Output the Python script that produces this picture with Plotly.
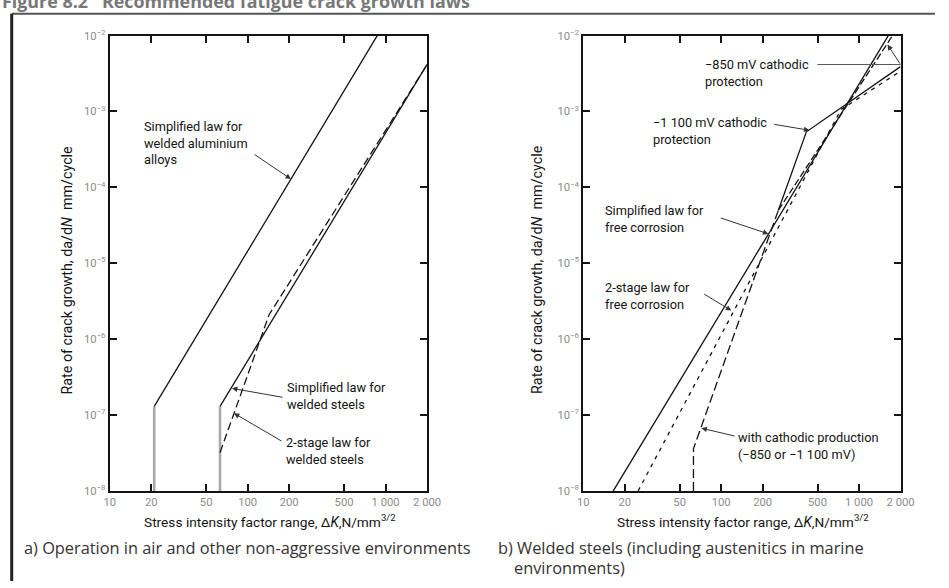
import plotly.graph_objects as go

# ---------------- data ----------------
x_tickvals = [10, 20, 50, 100, 200, 500, 1000, 2000]
x_ticktext = ["10", "20", "50", "100", "200", "500", "1 000", "2 000"]
y_tickvals = [1e-8, 1e-7, 1e-6, 1e-5, 1e-4, 1e-3, 1e-2]
y_ticktext = ["10<sup>−8</sup>", "10<sup>−7</sup>", "10<sup>−6</sup>", "10<sup>−5</sup>",
              "10<sup>−4</sup>", "10<sup>−3</sup>", "10<sup>−2</sup>"]

# panel a) air
alu_threshold_dK = [21, 21]
alu_threshold_rate = [1e-8, 1.3e-7]
alu_law_dK = [21, 870]
alu_law_rate = [1.3e-7, 1.0e-2]
steel_threshold_dK = [63, 63]
steel_threshold_rate = [1e-8, 1.3e-7]
steel_law_dK = [63, 2000]
steel_law_rate = [1.3e-7, 4.17e-3]
steel_2stage_dK = [63, 143, 2000]
steel_2stage_rate = [3.2e-8, 2.1e-6, 4.14e-3]

# panel b) marine
fc_law_dK = [16.5, 1630]
fc_law_rate = [1.0e-8, 1.0e-2]
fc_2stage_dK = [25, 740, 2000]
fc_2stage_rate = [1.0e-8, 1.06e-3, 3.4e-3]
cp_common_dK = [63, 63, 260]
cp_common_rate = [1.0e-8, 3.6e-8, 5.0e-5]
cp850_dK = [260, 1750]
cp850_rate = [5.0e-5, 1.0e-2]
cp1100_dK = [260, 415, 2000]
cp1100_rate = [5.0e-5, 5.4e-4, 3.9e-3]

W, H = 949, 588
FONT = "Roboto, Liberation Sans, Arial, sans-serif"
INK = "#141414"

# the page is photographed slightly reduced and offset; positions below are given
# in the reference picture's pixels and mapped back to page pixels here
K, OFF = 0.978, 6.3
FS = 1 / K


def T(v):
    return (v - OFF) / K


def px(x):
    return T(x) / W


def py(y):
    return 1 - T(y) / H


fig = go.Figure()


def line(xs, ys, axis, color=INK, width=1.3, dash="solid"):
    xa, ya = ("x", "y") if axis == 1 else ("x2", "y2")
    fig.add_trace(go.Scatter(x=xs, y=ys, mode="lines", xaxis=xa, yaxis=ya,
                             line=dict(color=color, width=width, dash=dash),
                             showlegend=False, hoverinfo="skip"))


GRAY = "#a8a8a8"
line(alu_threshold_dK, alu_threshold_rate, 1, GRAY, 2.6)
line(steel_threshold_dK, steel_threshold_rate, 1, GRAY, 2.6)
line(alu_law_dK, alu_law_rate, 1)
line(steel_law_dK, steel_law_rate, 1)
line(steel_2stage_dK, steel_2stage_rate, 1, dash="8px,4px")

line(fc_law_dK, fc_law_rate, 2)
line(fc_2stage_dK, fc_2stage_rate, 2, dash="4px,5px")
line(cp_common_dK, cp_common_rate, 2, dash="9px,4px")
line(cp850_dK, cp850_rate, 2, dash="7px,3px")
line(cp1100_dK, cp1100_rate, 2)

tickfont = dict(family=FONT, size=11 * FS, color="#8c8c8c")
xax = dict(type="log", range=[1, 3.30103], tickvals=x_tickvals, ticktext=x_ticktext,
           ticks="inside", ticklen=7, tickwidth=2, tickcolor=INK, showline=True,
           linecolor=INK, linewidth=2, mirror="ticks", showgrid=False, zeroline=False,
           tickfont=tickfont)
yax = dict(type="log", range=[-8, -2], tickvals=y_tickvals, ticktext=y_ticktext,
           ticks="inside", ticklen=7, tickwidth=2, tickcolor=INK, showline=True,
           linecolor=INK, linewidth=2, mirror="ticks", showgrid=False, zeroline=False,
           tickfont=tickfont)

fig.update_layout(
    width=W, height=H, margin=dict(l=0, r=0, t=0, b=0),
    paper_bgcolor="white", plot_bgcolor="white",
    xaxis=dict(xax, domain=[px(110), px(427)], anchor="y"),
    yaxis=dict(yax, domain=[py(491), py(34)], anchor="x"),
    xaxis2=dict(xax, domain=[px(583), px(900)], anchor="y2"),
    yaxis2=dict(yax, domain=[py(491), py(34)], anchor="x2"),
)

ann = []


def text(x, y, s, size=12.5, color=INK, anchor="left", yanchor="middle", angle=0, family=FONT):
    ann.append(dict(x=px(x), y=py(y), xref="paper", yref="paper", text=s, showarrow=False,
                    xanchor=anchor, yanchor=yanchor, align="left", textangle=angle,
                    font=dict(family=family, size=size * FS, color=color)))


def arrow(tail, tip):
    ann.append(dict(x=px(tip[0]), y=py(tip[1]), xref="paper", yref="paper",
                    ax=(tail[0] - tip[0]) / K, ay=(tail[1] - tip[1]) / K,
                    axref="pixel", ayref="pixel",
                    text="", showarrow=True, arrowhead=2, arrowsize=1.1, arrowwidth=1,
                    arrowcolor="#333"))


# labels, panel a
text(142, 142, "Simplified law for<br>welded aluminium<br>alloys")
arrow((254, 153), (291, 178))
text(285, 396, "Simplified law for<br>welded steels")
arrow((283, 397), (232, 388))
text(284, 451, "2-stage law for<br>welded steels")
arrow((282, 441), (234, 413))

# labels, panel b
text(703, 72, "−850 mV cathodic<br>protection")
text(651, 130, "−1 100 mV cathodic<br>protection")
arrow((773, 123), (809, 129))
text(603, 218, "Simplified law for<br>free corrosion")
arrow((720, 217), (768, 233))
text(603, 295, "2-stage law for<br>free corrosion")
arrow((703, 293), (731, 310))
text(736, 446, "with cathodic production<br>(−850 or −1 100 mV)")
arrow((735, 436), (701, 428))
arrow((900, 63), (887, 43))

# axis titles
ytitle = "Rate of crack growth, da/d<i>N</i>  mm/cycle"
xtitle = "Stress intensity factor range, Δ<i>K</i>,N/mm<sup>3/2</sup>"
text(67, 269, ytitle, size=14, anchor="center", angle=-90)
text(537, 269, ytitle, size=14, anchor="center", angle=-90)
text(270, 521, xtitle, size=13.4, anchor="center")
text(743, 521, xtitle, size=13.4, anchor="center")

# captions
CAP = "Open Sans, Noto Sans, sans-serif"
text(22, 548, "a) Operation in air and other non-aggressive environments", size=16,
     color="#333", family=CAP)
text(496, 548, "b) Welded steels (including austenitics in marine", size=16,
     color="#333", family=CAP)
text(512, 568, "environments)", size=16, color="#333", family=CAP)

# figure heading, cut by the top edge of the page as in the reference
text(0, -1, "<b>Figure 8.2   Recommended fatigue crack growth laws</b>", size=17.5,
     color="#777", family=CAP)

fig.update_layout(annotations=ann)

# frame and leader line
fig.add_shape(type="line", xref="paper", yref="paper", x0=px(12), x1=1, y0=py(12), y1=py(12),
              line=dict(color="#555", width=2))
fig.add_shape(type="line", xref="paper", yref="paper", x0=px(12), x1=px(12), y0=py(12), y1=0,
              line=dict(color="#222", width=3))
fig.add_shape(type="line", xref="paper", yref="paper", x0=px(817), x1=px(900), y0=py(63), y1=py(63),
              line=dict(color="#555", width=1))

fig.write_html(
    "out.html",
    config={"displayModeBar": False},
    post_script="document.body.style.margin='0';document.body.style.overflow='hidden';",
)
